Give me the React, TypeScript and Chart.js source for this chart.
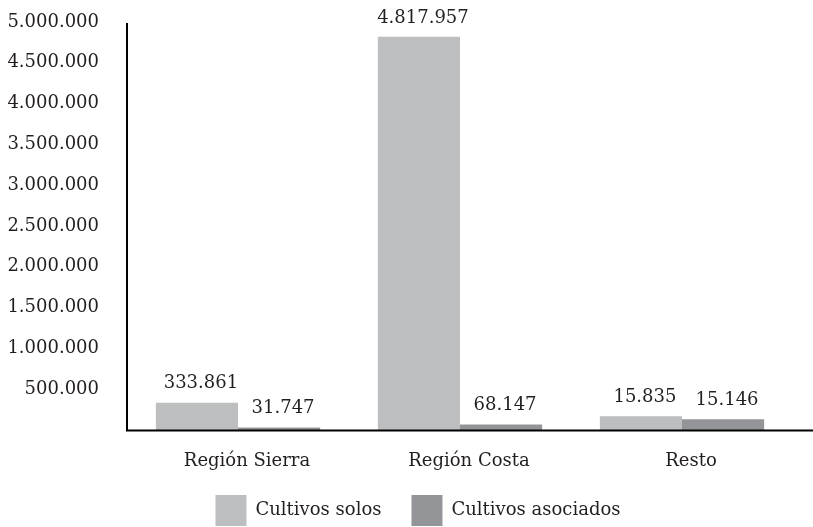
import React, { useEffect, useRef } from 'react';
import { Chart, registerables } from 'chart.js';

Chart.register(...registerables);

const categories = ['Región Sierra', 'Región Costa', 'Resto'];
const seriesNames = ['Cultivos solos', 'Cultivos asociados'];
// bar heights as drawn in the picture
const cultivosSolos = [333861, 4817957, 170000];
const cultivosAsociados = [31747, 68147, 132000];
// value labels as printed above the bars
const solosLabels = ['333.861', '4.817.957', '15.835'];
const asociadosLabels = ['31.747', '68.147', '15.146'];
const yMin = 0;
const yMax = 5000000;
const yStep = 500000;

const FONT = "'DejaVu Serif', serif";
const TEXT = '#231f20';
const COLORS = ['#bcbec0', '#939598'];

const fmt = (v: number) => String(Math.round(v)).replace(/\B(?=(\d{3})+(?!\d))/g, '.');

const valueLabels = {
  id: 'valueLabels',
  afterLayout(chart: any) {
    const lg = chart.legend;
    if (lg) {
      lg.left = 43;
      lg.right = 793;
      lg.top = 465;
      lg.bottom = 536;
    }
  },
  afterDatasetsDraw(chart: any) {
    const ctx = chart.ctx;
    const all = [solosLabels, asociadosLabels];
    ctx.save();
    ctx.font = `18px ${FONT}`;
    ctx.fillStyle = TEXT;
    ctx.textAlign = 'center';
    ctx.textBaseline = 'middle';
    chart.data.datasets.forEach((_ds: any, di: number) => {
      const meta = chart.getDatasetMeta(di);
      meta.data.forEach((el: any, i: number) => {
        ctx.fillText(all[di][i], el.x + 4, el.y - 19);
      });
    });
    // axis lines
    const a = chart.chartArea;
    ctx.strokeStyle = '#000';
    ctx.lineWidth = 2;
    ctx.beginPath();
    ctx.moveTo(a.left, a.top + 1);
    ctx.lineTo(a.left, a.bottom + 1.5);
    ctx.moveTo(a.left - 1, a.bottom + 0.5);
    ctx.lineTo(chart.width, a.bottom + 0.5);
    ctx.stroke();
    ctx.restore();
  },
};

export default function App() {
  const ref = useRef<HTMLCanvasElement | null>(null);
  useEffect(() => {
    if (!ref.current) return;
    const chart = new Chart(ref.current, {
      type: 'bar',
      data: {
        labels: categories,
        datasets: [
          { label: seriesNames[0], data: cultivosSolos, backgroundColor: COLORS[0], borderWidth: 0 },
          { label: seriesNames[1], data: cultivosAsociados, backgroundColor: COLORS[1], borderWidth: 0 },
        ],
      },
      options: {
        responsive: false,
        animation: false,
        layout: { padding: { left: 0, right: 20, top: 22, bottom: 0 } },
        datasets: { bar: { barPercentage: 1, categoryPercentage: 0.74 } },
        scales: {
          x: {
            grid: { display: false, drawTicks: false },
            border: { display: false },
            ticks: { color: TEXT, font: { family: FONT, size: 18 }, padding: 21, labelOffset: 9, maxRotation: 0 },
            afterFit: (s: any) => { s.height = 45; s.paddingLeft = 0; s.paddingRight = 0; },
          },
          y: {
            min: yMin,
            max: yMax,
            grid: { display: false, drawTicks: false },
            border: { display: false },
            ticks: {
              stepSize: yStep,
              color: TEXT,
              font: { family: FONT, size: 18 },
              padding: 28,
              labelOffset: 0,
              callback: (v: any) => (Number(v) === 0 ? '' : fmt(Number(v))),
            },
            afterFit: (s: any) => { s.width = 127; s.paddingTop = 0; s.paddingBottom = 0; },
          },
        },
        plugins: {
          legend: {
            position: 'bottom',
            labels: {
              boxWidth: 31,
              boxHeight: 31,
              padding: 30,
              color: TEXT,
              font: { family: FONT, size: 18 },
            },
          },
          tooltip: { enabled: false },
        },
      },
      plugins: [valueLabels],
    } as any);
    return () => chart.destroy();
  }, []);
  return (
    <div style={{ position: 'fixed', left: 0, top: 0, width: 813, height: 527, overflow: 'hidden', background: '#fff' }}>
      <canvas ref={ref} width={813} height={546} style={{ display: 'block', width: 813, height: 546 }} />
    </div>
  );
}
